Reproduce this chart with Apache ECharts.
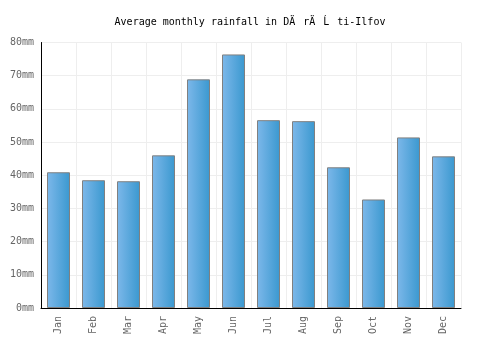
<!DOCTYPE html>
<html>
<head>
<meta charset="utf-8">
<script src="https://cdn.jsdelivr.net/npm/echarts@6/dist/echarts.min.js"></script>
<style>html,body{margin:0;padding:0;background:#fff}#c{width:500px;height:350px}</style>
</head>
<body>
<div id="c"></div>
<script>
const titleText = "Average monthly rainfall in D\u00C4\u0083r\u00C4\u0083\u0139\u009Fti-Ilfov";
const categories = ["Jan","Feb","Mar","Apr","May","Jun","Jul","Aug","Sep","Oct","Nov","Dec"];
const rainfall = [40.9, 38.5, 38.2, 46.0, 68.9, 76.4, 56.6, 56.3, 42.4, 32.7, 51.4, 45.7];
const yTicks = [0, 10, 20, 30, 40, 50, 60, 70, 80];

const font = "'DejaVu Sans Mono', monospace";
const chart = echarts.init(document.getElementById('c'), null, {renderer: 'canvas'});
chart.setOption({
  animation: false,
  backgroundColor: '#fff',
  title: {
    text: titleText,
    left: 'center',
    top: 12,
    textStyle: {fontFamily: font, fontSize: 10, fontWeight: 'normal', color: '#000'}
  },
  grid: {left: 41, right: 39, top: 42.5, bottom: 42, containLabel: false},
  xAxis: {
    type: 'category',
    data: categories,
    axisLine: {show: true, lineStyle: {color: '#000', width: 1}},
    axisTick: {show: false},
    splitLine: {show: true, lineStyle: {color: '#eeeeee', width: 1}},
    axisLabel: {rotate: 90, interval: 0, margin: 8, color: '#666', fontFamily: font, fontSize: 10}
  },
  yAxis: {
    type: 'value',
    min: yTicks[0],
    max: yTicks[yTicks.length - 1],
    interval: 10,
    axisLine: {show: true, lineStyle: {color: '#000', width: 1}},
    axisTick: {show: false},
    splitLine: {show: true, lineStyle: {color: '#eeeeee', width: 1}},
    axisLabel: {margin: 7, color: '#666', fontFamily: font, fontSize: 10, formatter: v => v + 'mm'}
  },
  series: [{
    type: 'bar',
    data: rainfall,
    barWidth: 23,
    itemStyle: {
      borderColor: '#808080',
      borderWidth: 1,
      color: new echarts.graphic.LinearGradient(0, 0, 1, 0, [
        {offset: 0, color: '#7db8ea'},
        {offset: 1, color: '#3a98cf'}
      ])
    }
  }]
});
</script>
</body>
</html>
